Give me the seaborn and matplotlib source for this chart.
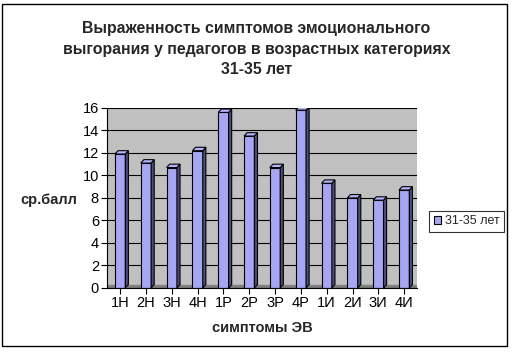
import numpy as np
import pandas as pd
import matplotlib
matplotlib.use('Agg')
import matplotlib.pyplot as plt
from matplotlib.patches import Polygon, Rectangle
import seaborn as sns

# ── Data ─────────────────────────────────────────────────────────────────────
symptoms = ['1Н', '2Н', '3Н', '4Н', '1Р', '2Р', '3Р', '4Р', '1И', '2И', '3И', '4И']
scores   = [11.9, 11.1, 10.7, 12.2, 15.6, 13.5, 10.7, 15.8, 9.3, 8.0, 7.8, 8.7]
series   = '31-35 лет'

df = pd.DataFrame({'symptom': symptoms, 'score': scores, 'group': series})

sns.set_style('white')
plt.rcParams['font.family'] = ['Liberation Sans', 'DejaVu Sans']

FACE = '#9999FF'
SIDE = '#4D4D80'
TOP  = '#B3B3FF'

fig = plt.figure(figsize=(5.13, 3.55), dpi=100)
ax = fig.add_axes([0.209, 0.189, 0.604, 0.507])

sns.barplot(data=df, x='symptom', y='score', hue='group', palette=[FACE],
            width=0.4, edgecolor='black', linewidth=0.8, ax=ax, legend=True)

# floor of the 3D-like plot area
ax.axhspan(0, 0.25, color='#808080', zorder=0.5)

# pseudo-3D sides derived from the drawn bars
dx, dy = 0.12, 0.3
for bar in ax.patches[:len(symptoms)]:
    x0, w, h = bar.get_x(), bar.get_width(), bar.get_height()
    if h <= 0:
        continue
    x1 = x0 + w
    ax.add_patch(Polygon([(x1, 0), (x1 + dx, dy), (x1 + dx, h + dy), (x1, h)],
                         closed=True, facecolor=SIDE, edgecolor='black',
                         linewidth=0.8, zorder=bar.get_zorder()))
    ax.add_patch(Polygon([(x0, h), (x0 + dx, h + dy), (x1 + dx, h + dy), (x1, h)],
                         closed=True, facecolor=TOP, edgecolor='black',
                         linewidth=0.8, zorder=bar.get_zorder()))

ax.set_facecolor('#C0C0C0')
ax.set_ylim(0, 16)
ax.set_yticks(np.arange(0, 17, 2))
ax.set_xlim(-0.5, len(symptoms) - 0.5)
ax.yaxis.grid(True, color='black', linewidth=0.8)
ax.set_axisbelow(True)
for s in ['top', 'right']:
    ax.spines[s].set_visible(False)
for s in ['left', 'bottom']:
    ax.spines[s].set_color('black')
    ax.spines[s].set_linewidth(0.8)
ax.tick_params(axis='both', labelsize=10.5, length=4, width=0.8, colors='black',
               direction='out', left=True, bottom=True, pad=2)
ax.set_xticks(np.arange(len(symptoms)))
ax.set_xticklabels(symptoms)

ax.set_xlabel('симптомы ЭВ', fontsize=10.5, fontweight='bold', labelpad=8)
ax.set_ylabel('ср.балл', fontsize=10.5, fontweight='bold', rotation=0,
              labelpad=0)
ax.yaxis.set_label_coords(-0.19, 0.45)

fig.suptitle('Выраженность симптомов эмоционального\n'
             'выгорания у педагогов в возрастных категориях\n'
             '31-35 лет', fontsize=11.4, fontweight='bold', y=0.94,
             linespacing=1.45)

leg = ax.legend(loc='center left', bbox_to_anchor=(1.04, 0.37), fontsize=9,
                frameon=True, fancybox=False, handlelength=0.6,
                handleheight=0.6, handletextpad=0.3, borderpad=0.35,
                borderaxespad=0)
leg.get_frame().set_edgecolor('black')
leg.get_frame().set_linewidth(0.8)

fig.add_artist(Rectangle((0.004, 0.025), 0.984, 0.963,
                         transform=fig.transFigure, fill=False,
                         edgecolor='black', linewidth=1.0))

fig.savefig('out.png', dpi=100, facecolor='white')
plt.close()
